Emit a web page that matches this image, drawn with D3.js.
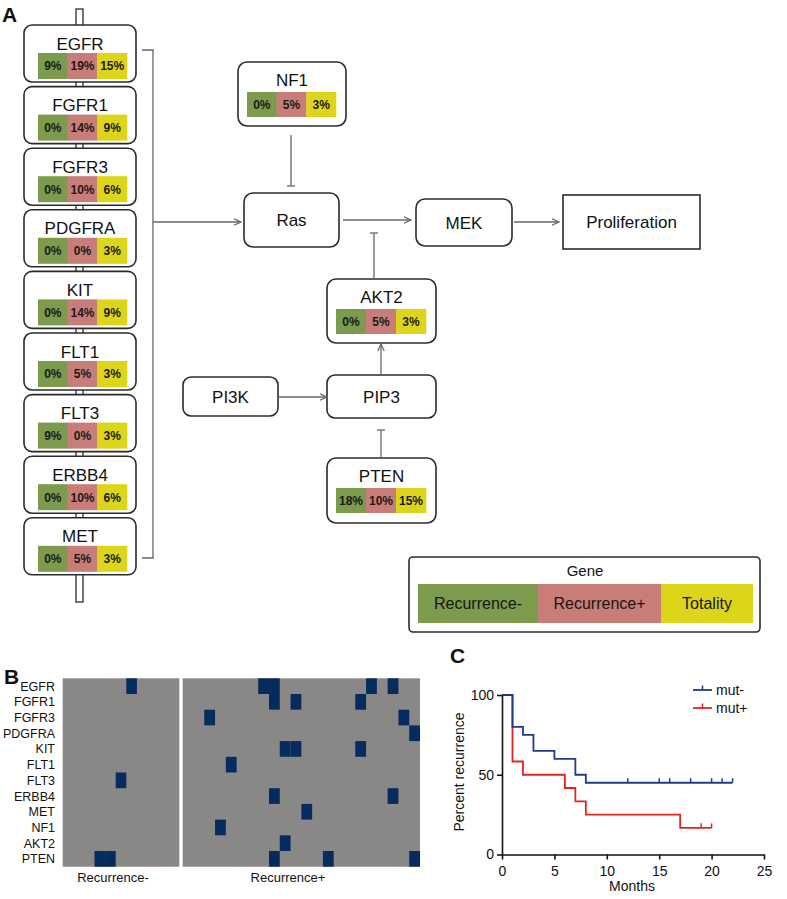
<!DOCTYPE html>
<html><head><meta charset="utf-8">
<script src="https://cdn.jsdelivr.net/npm/d3@7"></script>
<style>body{margin:0;background:#fff}svg{display:block;font-family:Arial,"Liberation Sans",sans-serif}</style>
</head><body><svg id="c" width="787" height="899"></svg>
<script>
// ---------- DATA ----------
const columnGenes = ["EGFR","FGFR1","FGFR3","PDGFRA","KIT","FLT1","FLT3","ERBB4","MET"];
const columnRecNeg = [9,0,0,0,0,0,9,0,0];
const columnRecPos = [19,14,10,0,14,5,0,10,5];
const columnTotal  = [15,9,6,3,9,3,3,6,3];

const pathwayGenes  = ["NF1","AKT2","PTEN"];
const pathwayRecNeg = [0,0,18];
const pathwayRecPos = [5,5,10];
const pathwayTotal  = [3,3,15];

const otherNodes = ["Ras","MEK","Proliferation","PI3K","PIP3"];
const legendTitle = "Gene";
const legendGroups = ["Recurrence-","Recurrence+","Totality"];

const heatGenes = ["EGFR","FGFR1","FGFR3","PDGFRA","KIT","FLT1","FLT3","ERBB4","MET","NF1","AKT2","PTEN"];
const heatGroups = ["Recurrence-","Recurrence+"];
const recNegPatients = 11, recPosPatients = 22;
const recNegMutated = [[6],[],[],[],[],[],[5],[],[],[],[],[3,4]];
const recPosMutated = [[7,8,17,19],[8,10,16],[2,20],[21],[9,10,16],[4],[],[8,19],[11],[3],[9],[8,13,21]];

const kmXTicks = [0,5,10,15,20,25];
const kmYTicks = [0,50,100];
const mutNegTimes = [0,1,2,3,5,7,8,22];
const mutNegPct   = [100,80,75,65,60,50,45,45];
const mutNegCensor = [12,15,16,18,20,21,22];
const mutPosTimes = [0,1,2,6,7,8,17,20];
const mutPosPct   = [100,58.3,50,41.7,33.3,25,16.7,16.7];
const mutPosCensor = [19,20];
const kmSeries = ["mut-","mut+"];

// ---------- STYLE ----------
const C_GREEN="#7c9b4d", C_PINK="#c97d78", C_YEL="#ddd51a";
const groupColors=[C_GREEN,C_PINK,C_YEL];
const EDGE="#2b2b2b", LINK="#666";
const svg=d3.select("#c");

const defs=svg.append("defs");
defs.append("marker").attr("id","arr").attr("viewBox","0 0 8 8").attr("refX",7.5).attr("refY",4)
  .attr("markerWidth",8).attr("markerHeight",8).attr("markerUnits","userSpaceOnUse").attr("orient","auto")
  .append("path").attr("d","M0.5,0.8 L7.5,4 L0.5,7.2").attr("fill","none").attr("stroke",LINK).attr("stroke-width",1.2);

function panelLabel(t,x,y){svg.append("text").attr("x",x).attr("y",y).attr("font-size",21).attr("font-weight","bold").attr("fill","#111").text(t);}
panelLabel("A",2,22);
panelLabel("B",4,684);
panelLabel("C",450,663);

function pctBar(g,x,y,w,h,vals){
  const xs=d3.scaleBand().domain(d3.range(3)).range([x,x+w]);
  g.selectAll("rect.seg").data(vals).join("rect").attr("class","seg")
    .attr("x",(d,i)=>xs(i)).attr("y",y).attr("width",xs.bandwidth()+0.3).attr("height",h)
    .attr("fill",(d,i)=>groupColors[i]);
  g.selectAll("text.pct").data(vals).join("text").attr("class","pct")
    .attr("x",(d,i)=>xs(i)+xs.bandwidth()/2).attr("y",y+h/2+4.3)
    .attr("text-anchor","middle").attr("font-size",12).attr("font-weight","bold").attr("fill","#1a1a1a").text(d=>d+"%");
}

// ---------- PANEL A: left column ----------
svg.append("rect").attr("x",76).attr("y",9).attr("width",7).attr("height",593)
  .attr("fill","#fff").attr("stroke",EDGE).attr("stroke-width",1.3);
const colY=d3.scaleLinear().domain([0,1]).range([25,86.6]);
columnGenes.forEach((gname,i)=>{
  const top=colY(i);
  const g=svg.append("g");
  g.append("rect").attr("x",24).attr("y",top).attr("width",112).attr("height",57).attr("rx",8)
    .attr("fill","#fff").attr("stroke",EDGE).attr("stroke-width",1.6);
  g.append("text").attr("x",80).attr("y",top+24.5).attr("text-anchor","middle").attr("font-size",17).attr("fill","#111").text(gname);
  pctBar(g,38,top+28,89,26,[columnRecNeg[i],columnRecPos[i],columnTotal[i]]);
});
svg.append("path").attr("d","M142,50 H153 V558 H142").attr("fill","none").attr("stroke",LINK).attr("stroke-width",1.3);
function arrow(x1,y1,x2,y2){svg.append("line").attr("x1",x1).attr("y1",y1).attr("x2",x2).attr("y2",y2)
  .attr("stroke",LINK).attr("stroke-width",1.3).attr("marker-end","url(#arr)");}
function inhib(x1,y1,x2,y2){svg.append("line").attr("x1",x1).attr("y1",y1).attr("x2",x2).attr("y2",y2)
  .attr("stroke",LINK).attr("stroke-width",1.3);
  svg.append("line").attr("x1",x2-4).attr("x2",x2+4).attr("y1",y2).attr("y2",y2).attr("stroke",LINK).attr("stroke-width",1.3);}
arrow(153,222,241,222);

// ---------- PANEL A: pathway ----------
const pathwayBoxes=[{x:238,y:62,w:108,h:64},{x:327,y:279,w:109,h:64},{x:327,y:458,w:109,h:65}];
pathwayGenes.forEach((gname,i)=>{
  const b=pathwayBoxes[i];const g=svg.append("g");
  g.append("rect").attr("x",b.x).attr("y",b.y).attr("width",b.w).attr("height",b.h).attr("rx",9)
    .attr("fill","#fff").attr("stroke",EDGE).attr("stroke-width",1.6);
  g.append("text").attr("x",b.x+b.w/2).attr("y",b.y+24).attr("text-anchor","middle").attr("font-size",17).attr("fill","#111").text(gname);
  pctBar(g,b.x+9,b.y+30,b.w-19,25,[pathwayRecNeg[i],pathwayRecPos[i],pathwayTotal[i]]);
});
const nodeBoxes=[{x:244,y:193,w:95,h:54,rx:9},{x:416,y:199,w:96,h:47,rx:9},{x:563,y:195,w:137,h:54,rx:0},
  {x:183,y:377,w:95,h:39,rx:8},{x:327,y:375,w:109,h:43,rx:8}];
otherNodes.forEach((n,i)=>{
  const b=nodeBoxes[i];
  svg.append("rect").attr("x",b.x).attr("y",b.y).attr("width",b.w).attr("height",b.h).attr("rx",b.rx)
    .attr("fill","#fff").attr("stroke",EDGE).attr("stroke-width",1.6);
  svg.append("text").attr("x",b.x+b.w/2).attr("y",b.y+b.h/2+6).attr("text-anchor","middle").attr("font-size",17).attr("fill","#111").text(n);
});
inhib(291,135,291,186);
arrow(343,220,411,220);
arrow(514,222,559,222);
inhib(374,279,374,233);
arrow(381,375,381,344);
arrow(278,397,327,397);
inhib(381,458,381,430);

// legend
svg.append("rect").attr("x",409).attr("y",557).attr("width",351).attr("height",75).attr("rx",4)
  .attr("fill","#fff").attr("stroke",EDGE).attr("stroke-width",1.6);
svg.append("text").attr("x",585).attr("y",576).attr("text-anchor","middle").attr("font-size",15).attr("fill","#111").text(legendTitle);
const lgX=d3.scaleOrdinal().domain(legendGroups).range([418,538,661]);
const lgW=[120,123,92];
legendGroups.forEach((t,i)=>{
  svg.append("rect").attr("x",lgX(t)).attr("y",584).attr("width",lgW[i]).attr("height",39).attr("fill",groupColors[i]);
  svg.append("text").attr("x",lgX(t)+lgW[i]/2).attr("y",609).attr("text-anchor","middle").attr("font-size",16).attr("fill","#161616").text(t);
});

// ---------- PANEL B ----------
const hy=d3.scaleBand().domain(heatGenes).range([678.3,866.7]);
const hxN=d3.scaleBand().domain(d3.range(recNegPatients)).range([62.7,179.3]);
const hxP=d3.scaleBand().domain(d3.range(recPosPatients)).range([182.7,420]);
const NAVY="#062c5f", GRAY="#8a8787";
svg.append("rect").attr("x",62.7).attr("y",678.3).attr("width",116.6).attr("height",188.4).attr("fill",GRAY);
svg.append("rect").attr("x",182.7).attr("y",678.3).attr("width",237.3).attr("height",188.4).attr("fill",GRAY);
const cells=[];
heatGenes.forEach((g,i)=>{
  recNegMutated[i].forEach(c=>cells.push({g,x:hxN(c),w:hxN.bandwidth()}));
  recPosMutated[i].forEach(c=>cells.push({g,x:hxP(c),w:hxP.bandwidth()}));
});
svg.append("g").selectAll("rect").data(cells).join("rect")
  .attr("x",d=>d.x).attr("y",d=>hy(d.g)).attr("width",d=>d.w).attr("height",hy.bandwidth()).attr("fill",NAVY);
svg.append("g").selectAll("text").data(heatGenes).join("text")
  .attr("x",55).attr("y",d=>hy(d)+hy.bandwidth()/2+4.5).attr("text-anchor","end").attr("font-size",12.5).attr("fill","#111").text(d=>d);
const grpX=[113,288];
heatGroups.forEach((t,i)=>svg.append("text").attr("x",grpX[i]).attr("y",882).attr("text-anchor","middle").attr("font-size",13).attr("fill","#111").text(t));

// ---------- PANEL C ----------
const kx=d3.scaleLinear().domain([0,25]).range([502,764]);
const ky=d3.scaleLinear().domain([0,100]).range([854.5,695]);
const ax=svg.append("g").attr("transform","translate(0,854.5)").call(d3.axisBottom(kx).tickValues(kmXTicks).tickSize(5).tickSizeOuter(0));
const ay=svg.append("g").attr("transform","translate(502,0)").call(d3.axisLeft(ky).tickValues(kmYTicks).tickSize(5).tickSizeOuter(0));
[ax,ay].forEach(a=>{a.selectAll("path,line").attr("stroke","#111").attr("stroke-width",1.6);
  a.selectAll("text").attr("font-size",14).attr("fill","#111").attr("font-family","Arial, Liberation Sans, sans-serif");});
ax.selectAll("text").attr("dy","0.95em");
svg.append("text").attr("x",632).attr("y",891).attr("text-anchor","middle").attr("font-size",14).attr("fill","#111").text("Months");
svg.append("text").attr("transform","translate(464,772) rotate(-90)").attr("text-anchor","middle").attr("font-size",14).attr("fill","#111").text("Percent recurrence");

const line=d3.line().x(d=>kx(d[0])).y(d=>ky(d[1])).curve(d3.curveStepAfter);
const series=[
  {name:kmSeries[1],color:"#e3231f",pts:d3.zip(mutPosTimes,mutPosPct),cens:mutPosCensor,lv:mutPosPct[mutPosPct.length-1]},
  {name:kmSeries[0],color:"#1f3b8a",pts:d3.zip(mutNegTimes,mutNegPct),cens:mutNegCensor,lv:mutNegPct[mutNegPct.length-1]}
];
series.forEach(s=>{
  svg.append("path").attr("d",line(s.pts)).attr("fill","none").attr("stroke",s.color).attr("stroke-width",1.8);
  svg.append("g").selectAll("line").data(s.cens).join("line")
    .attr("x1",d=>kx(d)).attr("x2",d=>kx(d)).attr("y1",ky(s.lv)-4.5).attr("y2",ky(s.lv)).attr("stroke",s.color).attr("stroke-width",1.5);
});
const legY=d3.scaleOrdinal().domain(kmSeries).range([690,708]);
const legCol={"mut-":"#1f3b8a","mut+":"#e3231f"};
kmSeries.forEach(n=>{
  const y=legY(n);
  svg.append("line").attr("x1",693).attr("x2",712).attr("y1",y).attr("y2",y).attr("stroke",legCol[n]).attr("stroke-width",1.8);
  svg.append("line").attr("x1",702.5).attr("x2",702.5).attr("y1",y-4.5).attr("y2",y).attr("stroke",legCol[n]).attr("stroke-width",1.5);
  svg.append("text").attr("x",716).attr("y",y+5).attr("font-size",14).attr("fill","#111").text(n);
});
</script></body></html>
